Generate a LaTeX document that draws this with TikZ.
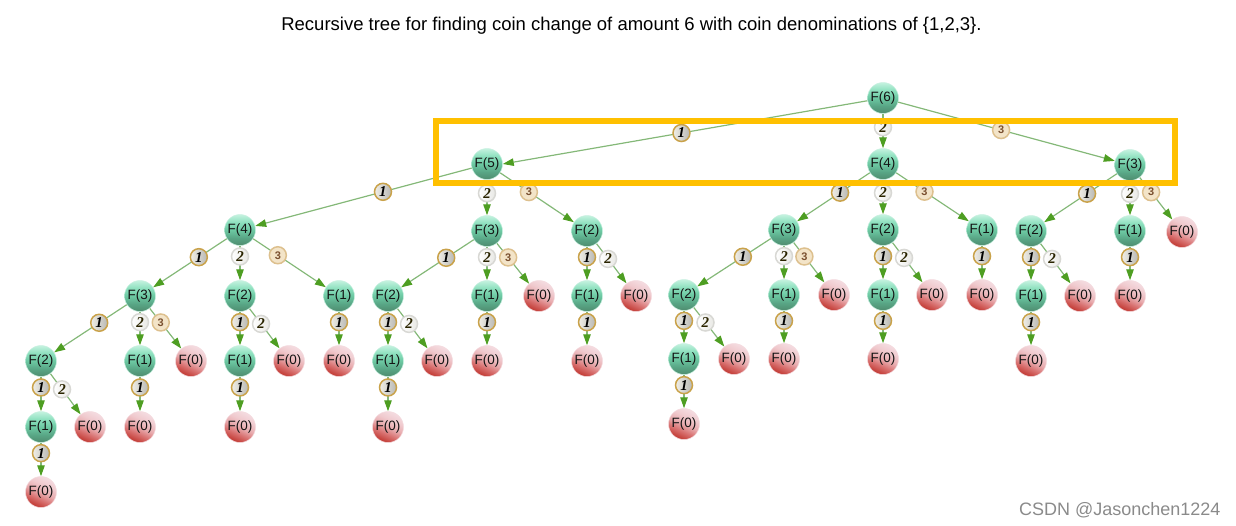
\documentclass[tikz,border=0pt]{standalone}
\usepackage{fontspec}
\setmainfont{Liberation Sans}
\newfontfamily\coinfont{Liberation Serif}
\usetikzlibrary{arrows.meta}
\pgfdeclarelayer{links}
\pgfsetlayers{links,main}
\definecolor{framegold}{HTML}{FFC000}
\definecolor{linkgreen}{HTML}{84B878}
\definecolor{tipgreen}{HTML}{4E9E22}
\definecolor{ink}{HTML}{141414}
\definecolor{BallTop}{HTML}{C4F2DF}
\definecolor{BallHigh}{HTML}{8CE0BE}
\definecolor{BallMid}{HTML}{6CC8A2}
\definecolor{BallLow}{HTML}{58A585}
\definecolor{BallBot}{HTML}{4F8C6E}
\definecolor{DeadTop}{HTML}{F4DCE1}
\definecolor{DeadHigh}{HTML}{F0CACE}
\definecolor{DeadMid}{HTML}{E8ACAF}
\definecolor{DeadLow}{HTML}{D8706F}
\definecolor{DeadBot}{HTML}{C4403A}
\definecolor{BallEdge}{HTML}{C8F0E0}
\definecolor{DeadEdge}{HTML}{F4DADE}
\definecolor{CoinGold}{HTML}{C9A24A}
\definecolor{CoinGrey}{HTML}{B8B8B4}
\definecolor{CoinLight}{HTML}{F0EEE6}
\definecolor{CoinPale}{HTML}{D8D8D4}
\definecolor{CoinWash}{HTML}{E8E8E4}
\definecolor{CoinTan}{HTML}{DDC08E}
\definecolor{CoinCream}{HTML}{F3E4C8}
\definecolor{CoinBrown}{HTML}{7A5030}
\definecolor{TwoInk}{HTML}{2A2400}
\definecolor{WaterGrey}{HTML}{8A8A8A}
\pgfdeclareverticalshading{greenball}{100bp}{
  color(0bp)=(BallBot); color(25bp)=(BallBot); color(37bp)=(BallLow);
  color(50bp)=(BallMid); color(62bp)=(BallHigh); color(75bp)=(BallTop); color(100bp)=(BallTop)}
\pgfdeclareverticalshading{redball}{100bp}{
  color(0bp)=(DeadBot); color(27bp)=(DeadBot); color(38bp)=(DeadLow);
  color(50bp)=(DeadMid); color(62bp)=(DeadHigh); color(75bp)=(DeadTop); color(100bp)=(DeadTop)}
\tikzset{
  x=1pt,y=-1pt,
  ball/.style={circle,minimum size=31pt,inner sep=0pt,font=\fontsize{13.5}{14}\selectfont,text=ink,line width=.5pt},
  live/.style={ball,draw=BallEdge,shading=greenball},
  dead/.style={ball,draw=DeadEdge,shading=redball,shading angle=-25},
  link/.style={linkgreen,line width=1.2pt,-{Triangle[length=11pt,width=7.5pt,fill=tipgreen,color=tipgreen]}},
  coinbase/.style={circle,minimum size=17pt,inner sep=0pt,line width=1.5pt},
  coinone/.style={coinbase,draw=CoinGold,left color=CoinLight,right color=CoinGrey,text=black,
     font=\coinfont\fontsize{15}{15}\selectfont\bfseries\itshape},
  cointwo/.style={coinbase,draw=CoinPale,left color=white,right color=CoinWash,text=TwoInk,
     font=\coinfont\fontsize{15}{15}\selectfont\bfseries\itshape},
  cointhree/.style={coinbase,draw=CoinTan,fill=CoinCream,text=CoinBrown,font=\fontsize{11}{11}\selectfont\bfseries},
  frame/.style={draw=framegold,line width=5.5pt},
  caption/.style={font=\fontsize{18.5}{20}\selectfont,text=black},
  mark text/.style={font=\fontsize{18}{20}\selectfont,text=WaterGrey}
}
% \coinlink[position]{from}{to}{coin style}
\newcommand{\coinlink}[4][.38]{%
  \begin{pgfonlayer}{links}
    \draw[link] (#2) -- (#3) node[#4,pos=#1] {\csname coindigit#4\endcsname};
  \end{pgfonlayer}}
\newcommand{\coindigitcoinone}{1}
\newcommand{\coindigitcointwo}{2}
\newcommand{\coindigitcointhree}{3}
\begin{document}
\begin{tikzpicture}
\useasboundingbox (0,0) rectangle (1236,525);
\node[caption] (title) at (631.5,26) {Recursive tree for finding coin change of amount 6 with coin denominations of \{1,2,3\}.};
\node[mark text,anchor=east] (mark) at (1224,510) {CSDN @Jasonchen1224};
% live nodes
\foreach \n/\x/\y/\v in {
 a6/883/98/6, a5/487/164/5, a4/883/164/4, a3/1130/165/3,
 b4/240/230/4, b3/487/231/3, b2/587/231/2, c3/784/230/3, c2/883/230/2, c1/982/230/1,
 d2/1031/231/2, d1/1130/231/1,
 e3/140/296/3, e2/240/296/2, e1/339/296/1, f2/388/296/2, f1/487/296/1, g1/587/296/1,
 h2/684/295/2, h1/784/295/1, i1/883/295/1, k1/1031/296/1,
 m2/41/361/2, m1/140/361/1, n1/240/361/1, p1/388/361/1, s1/684/359/1, w1/41/427/1}
  \node[live] (\n) at (\x,\y) {F(\v)};
% leaves
\foreach \n/\x/\y in {
 d0/1182/232, f0/539/296, g0/636/296, h0/834/295, i0/932/295, j0/982/295, k0/1080/296, l0/1130/296,
 m0/191/361, n0/289/361, o0/339/361, p0/437/361, q0/487/361, r0/587/361, s0/734/359, t0/784/359,
 u0/883/359, v0/1031/361, w0/90/427, x0/140/427, y0/240/427, z0/388/427, aa0/684/424, ab0/41/492}
  \node[dead] (\n) at (\x,\y) {F(0)};
% links from the root
\begin{pgfonlayer}{links}
  \draw[link] (a6.190) -- (a5.0) node[coinone,pos=.51] {1};
\end{pgfonlayer}
\coinlink[.39]{a6}{a4}{cointwo}
\coinlink[.475]{a6}{a3}{cointhree}
% coin 1
\foreach \p/\q in {a5/b4,a4/c3,a3/d2}
  \coinlink[.41]{\p}{\q}{coinone};
\foreach \p/\q in {b4/e3,b3/f2,c3/h2,e3/m2}
  \coinlink[.38]{\p}{\q}{coinone};
\foreach \p/\q in {b2/g1,c2/i1,d2/k1,e2/n1,f2/p1,h2/s1,m2/w1,c1/j0,d1/l0,e1/o0,f1/q0,g1/r0,h1/t0,i1/u0,k1/v0,m1/x0,n1/y0,p1/z0,s1/aa0,w1/ab0}
  \coinlink[.31]{\p}{\q}{coinone};
% coin 2
\foreach \p/\q in {a5/b3,a4/c2,a3/d1}
  \coinlink[.38]{\p}{\q}{cointwo};
\foreach \p/\q in {b4/e2,b3/f1,c3/h1,e3/m1}
  \coinlink[.31]{\p}{\q}{cointwo};
\foreach \p/\q in {b2/g0,c2/i0,d2/k0,e2/n0,f2/p0,h2/s0,m2/w0}
  \coinlink[.385]{\p}{\q}{cointwo};
% coin 3
\foreach \p/\q in {a5/b2,a4/c1}
  \coinlink[.39]{\p}{\q}{cointhree};
\foreach \p/\q in {a3/d0,b3/f0,c3/h0,e3/m0}
  \coinlink[.35]{\p}{\q}{cointhree};
\coinlink[.34]{b4}{e1}{cointhree}
% frame
\draw[frame] (436,121) rectangle (1175,183);
\end{tikzpicture}
\end{document}
